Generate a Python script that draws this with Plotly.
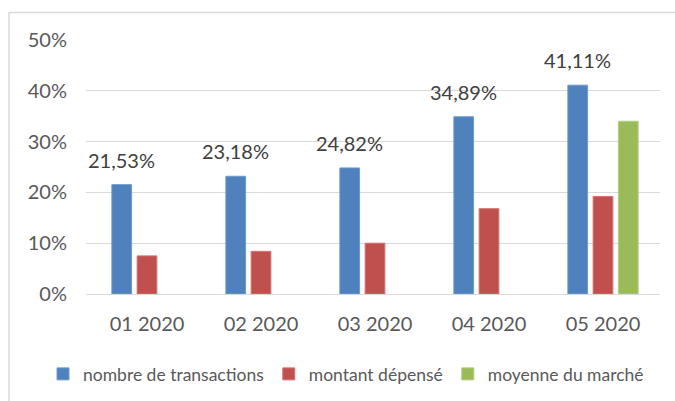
import plotly.graph_objects as go

categories = ["01 2020", "02 2020", "03 2020", "04 2020", "05 2020"]
transactions = [21.53, 23.18, 24.82, 34.89, 41.11]
montant = [7.5, 8.4, 10.0, 16.8, 19.2]
moyenne = [None, None, None, None, 34.0]
transaction_labels = ["21,53%", "23,18%", "24,82%", "34,89%", "41,11%"]
y_ticks = [0, 10, 20, 30, 40, 50]
y_tick_labels = ["0%", "10%", "20%", "30%", "40%", "50%"]

FONT = "Lato"
W, H = 675, 401
L, R, T, B = 86, 15, 40, 107
PW, PH = W - L - R, H - T - B

fig = go.Figure()
fig.add_trace(go.Bar(name="nombre de transactions", x=categories, y=transactions,
                     marker=dict(color="#4F81BD", line=dict(color="#6E9AD0", width=1))))
fig.add_trace(go.Bar(name="montant dépensé", x=categories, y=montant,
                     marker=dict(color="#C0504D", line=dict(color="#D47270", width=1))))
fig.add_trace(go.Bar(name="moyenne du marché", x=categories, y=moyenne,
                     marker=dict(color="#9BBB59", line=dict(color="#B2CC7C", width=1))))

for c, v, t in zip(categories, transactions, transaction_labels):
    fig.add_annotation(x=c, y=v, text=t, showarrow=False, xref="x", yref="y",
                       xshift=-25.5, yshift=11, yanchor="bottom",
                       font=dict(family=FONT, size=20, color="#404040"))

# outer frame: only the left and top edges are visible in the picture
fx0 = (9 - L) / PW
fx1 = (W + 5 - L) / PW
fy_top = (T + PH - 12.5) / PH
fy_bot = (T + PH - (H + 5)) / PH
frame = dict(color="#D9D9D9", width=1.5)
fig.add_shape(type="line", xref="paper", yref="paper", x0=fx0, x1=fx1, y0=fy_top, y1=fy_top,
              line=frame, layer="below")
fig.add_shape(type="line", xref="paper", yref="paper", x0=fx0, x1=fx0, y0=fy_bot, y1=fy_top,
              line=frame, layer="below")

fig.update_layout(
    width=W, height=H,
    margin=dict(l=L, r=R, t=T, b=B, autoexpand=False),
    paper_bgcolor="white", plot_bgcolor="white",
    barmode="group", bargap=0.335, bargroupgap=0.22,
    hovermode=False,
    font=dict(family=FONT, size=19, color="#595959"),
    showlegend=True,
    legend=dict(orientation="h", x=(43 - L) / PW, xanchor="left",
                y=(T + PH - 374) / PH, yanchor="middle",
                font=dict(family=FONT, size=17.5, color="#595959"),
                itemwidth=30, traceorder="normal"),
    xaxis=dict(showgrid=False, showline=False, ticks="", ticklabelstandoff=16,
               tickfont=dict(family=FONT, size=20, color="#595959")),
    yaxis=dict(range=[0, 50], tickvals=y_ticks, ticktext=y_tick_labels,
               showgrid=True, gridcolor="#D9D9D9", gridwidth=1,
               zeroline=True, zerolinecolor="#D9D9D9", zerolinewidth=1,
               showline=False, ticks="", ticklabelstandoff=18,
               tickfont=dict(family=FONT, size=20, color="#595959")),
)

fig.write_html(
    "out.html",
    config={"displayModeBar": False, "staticPlot": True},
    post_script="document.documentElement.style.overflow='hidden';"
                "document.body.style.margin='0';document.body.style.overflow='hidden';",
)
